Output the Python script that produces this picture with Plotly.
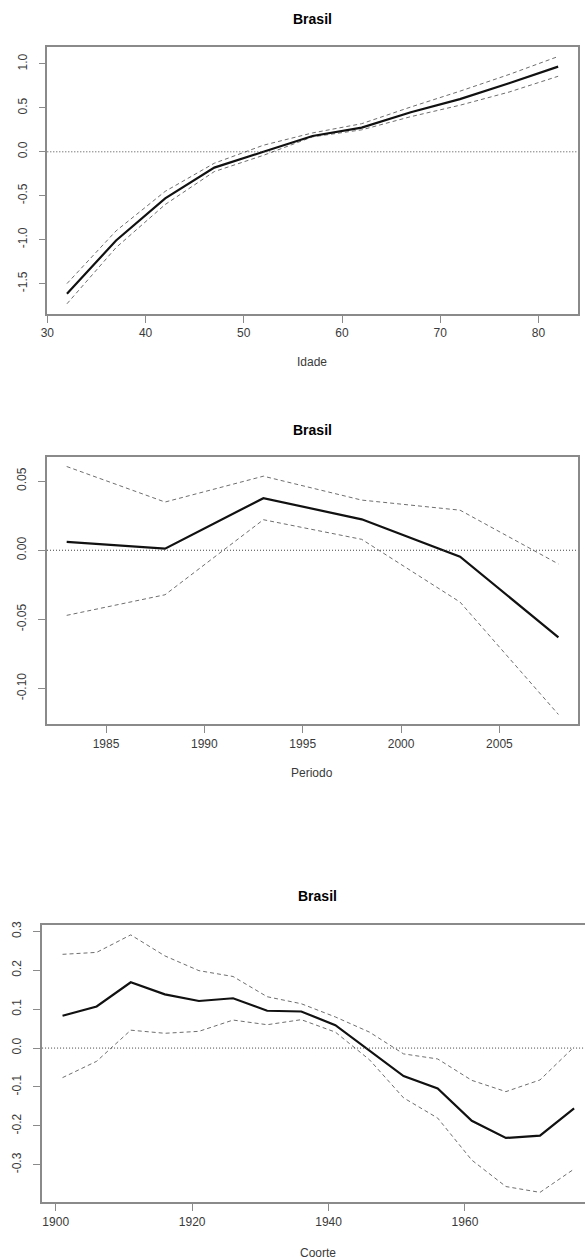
import plotly.graph_objects as go

W, H = 585, 1260

# ---- Data ----
idade = [32, 37, 42, 47, 52, 57, 62, 67, 72, 77, 82]
idade_est = [-1.615, -1.01, -0.53, -0.18, 0.0, 0.18, 0.275, 0.45, 0.60, 0.78, 0.97]
idade_sup = [-1.50, -0.90, -0.45, -0.13, 0.075, 0.215, 0.32, 0.51, 0.69, 0.88, 1.085]
idade_inf = [-1.73, -1.09, -0.60, -0.225, -0.04, 0.17, 0.25, 0.40, 0.53, 0.68, 0.86]

periodo = [1983, 1988, 1993, 1998, 2003, 2008]
periodo_est = [0.006, 0.0012, 0.0377, 0.0224, -0.0046, -0.063]
periodo_sup = [0.0606, 0.0349, 0.0536, 0.0363, 0.029, -0.0099]
periodo_inf = [-0.0471, -0.0322, 0.0221, 0.0079, -0.0375, -0.1188]

coorte = [1901, 1906, 1911, 1916, 1921, 1926, 1931, 1936, 1941, 1946, 1951, 1956, 1961, 1966, 1971, 1976]
coorte_est = [0.083, 0.107, 0.169, 0.138, 0.121, 0.128, 0.096, 0.094, 0.059, -0.006,
              -0.072, -0.104, -0.187, -0.231, -0.225, -0.155]
coorte_sup = [0.241, 0.246, 0.291, 0.237, 0.199, 0.184, 0.132, 0.114, 0.080, 0.041,
              -0.015, -0.028, -0.083, -0.112, -0.082, 0.003]
coorte_inf = [-0.076, -0.034, 0.046, 0.038, 0.043, 0.072, 0.060, 0.073, 0.041, -0.030,
              -0.128, -0.180, -0.288, -0.356, -0.371, -0.311]

titles = ["Brasil", "Brasil", "Brasil"]
xlabels = ["Idade", "Periodo", "Coorte"]
xticks = [[30, 40, 50, 60, 70, 80], [1985, 1990, 1995, 2000, 2005], [1900, 1920, 1940, 1960]]
yticks = [[-1.5, -1.0, -0.5, 0.0, 0.5, 1.0], [-0.10, -0.05, 0.00, 0.05], [-0.3, -0.2, -0.1, 0.0, 0.1, 0.2, 0.3]]
ytick_text = [["-1.5", "-1.0", "-0.5", "0.0", "0.5", "1.0"],
              ["-0.10", "-0.05", "0.00", "0.05"],
              ["-0.3", "-0.2", "-0.1", "0.0", "0.1", "0.2", "0.3"]]

# ---- Layout geometry (pixels) ----
panels = [
    dict(x0=40.8, x1=577.7, y0=42.7, y1=310.7, xr=[30, 84], yr=[-1.843, 1.198],
         title_y=15, lab_y=359.5, cx=309, mirror_y=True),
    dict(x0=40.5, x1=578.0, y0=454.0, y1=722.7, xr=[1982, 2009], yr=[-0.126, 0.0678],
         title_y=427, lab_y=771.7, cx=309, mirror_y=True),
    dict(x0=35.5, x1=585.0, y0=923.7, y1=1202.3, xr=[1898, 1977.6], yr=[-0.397, 0.317],
         title_y=895, lab_y=1253, cx=314.6, mirror_y=False),
]

series = [
    (idade, idade_est, idade_sup, idade_inf),
    (periodo, periodo_est, periodo_sup, periodo_inf),
    (coorte, coorte_est, coorte_sup, coorte_inf),
]

fig = go.Figure()
FONT = "Liberation Sans, Arial, sans-serif"
AXCOL = "#8a8a8a"
TXTCOL = "#3a3a3a"

annotations = []
shapes = []
for i, (p, s) in enumerate(zip(panels, series)):
    k = "" if i == 0 else str(i + 1)
    xa, ya = "x" + k, "y" + k
    x, est, sup, inf = s
    fig.add_trace(go.Scatter(x=x, y=sup, mode="lines", xaxis=xa, yaxis=ya,
                             line=dict(color="#6e6e6e", width=1, dash="4px,3px"), showlegend=False))
    fig.add_trace(go.Scatter(x=x, y=inf, mode="lines", xaxis=xa, yaxis=ya,
                             line=dict(color="#6e6e6e", width=1, dash="4px,3px"), showlegend=False))
    fig.add_trace(go.Scatter(x=x, y=est, mode="lines", xaxis=xa, yaxis=ya,
                             line=dict(color="#111111", width=2.2), showlegend=False))

    xdom = [p["x0"] / W, p["x1"] / W]
    ydom = [1 - p["y1"] / H, 1 - p["y0"] / H]
    fig.update_layout(**{
        "xaxis" + k: dict(domain=xdom, range=p["xr"], anchor=ya, showgrid=False, zeroline=False,
                          showline=True, mirror=True, linecolor=AXCOL, linewidth=1.6,
                          ticks="outside", ticklen=7, tickwidth=1, tickcolor=AXCOL,
                          tickvals=xticks[i], ticktext=[str(v) for v in xticks[i]],
                          tickfont=dict(family=FONT, size=12, color=TXTCOL),
                          ticklabelstandoff=0),
        "yaxis" + k: dict(domain=ydom, range=p["yr"], anchor=xa, showgrid=False, zeroline=False,
                          showline=True, mirror=p["mirror_y"], linecolor=AXCOL, linewidth=1.6,
                          ticks="outside", ticklen=7, tickwidth=1, tickcolor=AXCOL,
                          tickvals=yticks[i], ticktext=ytick_text[i], tickangle=-90,
                          tickfont=dict(family=FONT, size=12, color=TXTCOL),
                          ticklabelstandoff=7),
    })
    shapes.append(dict(type="line", xref=xa + " domain", yref=ya, x0=0, x1=1, y0=0, y1=0,
                       line=dict(color="#444444", width=1, dash="1px,2px"), layer="above"))
    annotations.append(dict(text="<b>" + titles[i] + "</b>", xref="paper", yref="paper",
                            x=p["cx"] / W, y=1 - p["title_y"] / H, showarrow=False,
                            xanchor="center", yanchor="middle",
                            font=dict(family=FONT, size=14, color="#000000")))
    annotations.append(dict(text=xlabels[i], xref="paper", yref="paper",
                            x=p["cx"] / W, y=1 - p["lab_y"] / H, showarrow=False,
                            xanchor="center", yanchor="middle",
                            font=dict(family=FONT, size=12, color=TXTCOL)))

fig.update_layout(width=W, height=H, margin=dict(l=0, r=0, t=0, b=0),
                  paper_bgcolor="white", plot_bgcolor="white",
                  annotations=annotations, shapes=shapes, showlegend=False)

fig.write_html("out.html")
